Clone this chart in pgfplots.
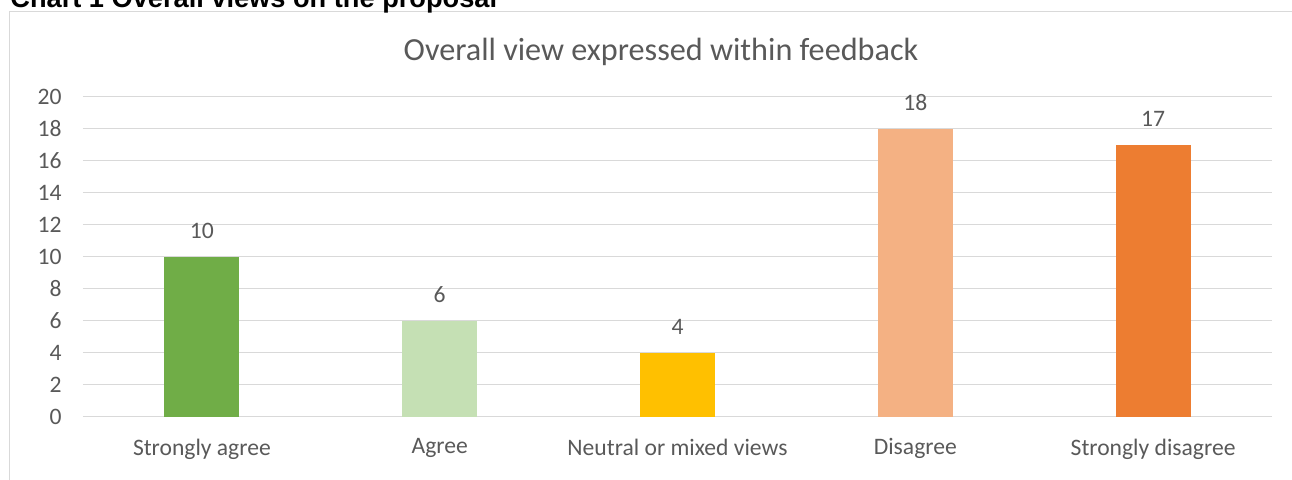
\documentclass[border=0pt]{standalone}
\usepackage{pgfplots}
\pgfplotsset{compat=1.18}
\usepackage{fontspec}
\setmainfont{Carlito}
\newfontfamily\arialfont{Liberation Sans}
\definecolor{txt}{HTML}{595959}
\definecolor{gridc}{HTML}{D9D9D9}
\definecolor{c1}{HTML}{70AD47}
\definecolor{c2}{HTML}{C5E0B4}
\definecolor{c3}{HTML}{FFC000}
\definecolor{c4}{HTML}{F4B183}
\definecolor{c5}{HTML}{ED7D31}
\begin{document}
\begin{tikzpicture}[x=0.5pt,y=0.5pt]
\useasboundingbox (0,0) rectangle (1292,479);
\clip (0,0) rectangle (1292,479);
% frame
\draw[gridc, line width=0.8pt] (9.5,467.5) rectangle (1311,-40);
% heading (cut at top, as in the reference)
\node[anchor=base west, inner sep=0pt, font=\arialfont\bfseries\fontsize{13.6}{15}\selectfont] at (10,472) {Chart 1 Overall views on the proposal};
% chart title
\node[anchor=center, inner sep=0pt, text=txt, font=\fontsize{16.1}{19}\selectfont] at (661,427) {Overall view expressed within feedback};
\coordinate (P) at (83,62.5);
\begin{axis}[
  at={(P)}, anchor=south west,
  scale only axis, width=594.5pt, height=160pt,
  xmin=-0.5, xmax=4.5, ymin=0, ymax=20,
  ytick={0,2,...,20},
  xtick={0,1,2,3,4},
  xticklabels={Strongly agree, Agree, Neutral or mixed views, Disagree, Strongly disagree},
  ymajorgrids, grid style={gridc, line width=0.8pt},
  axis line style={draw=none},
  tick style={draw=none},
  ticklabel style={text=txt, font=\fontsize{11.8}{14}\selectfont},
  /pgf/number format/assume math mode=true,
  yticklabel style={xshift=-7.2pt},
  xticklabel style={yshift=-3.3pt},
  ybar, bar width=37.5pt, bar shift=0pt,
  nodes near coords,
  every node near coord/.append style={text=txt, font=\fontsize{11.8}{14}\selectfont, anchor=center, yshift=13pt},
  clip=false,
]
\addplot[fill=c1, draw=none] coordinates {(0,10)};
\addplot[fill=c2, draw=none] coordinates {(1,6)};
\addplot[fill=c3, draw=none] coordinates {(2,4)};
\addplot[fill=c4, draw=none] coordinates {(3,18)};
\addplot[fill=c5, draw=none] coordinates {(4,17)};
\end{axis}
\end{tikzpicture}
\end{document}
